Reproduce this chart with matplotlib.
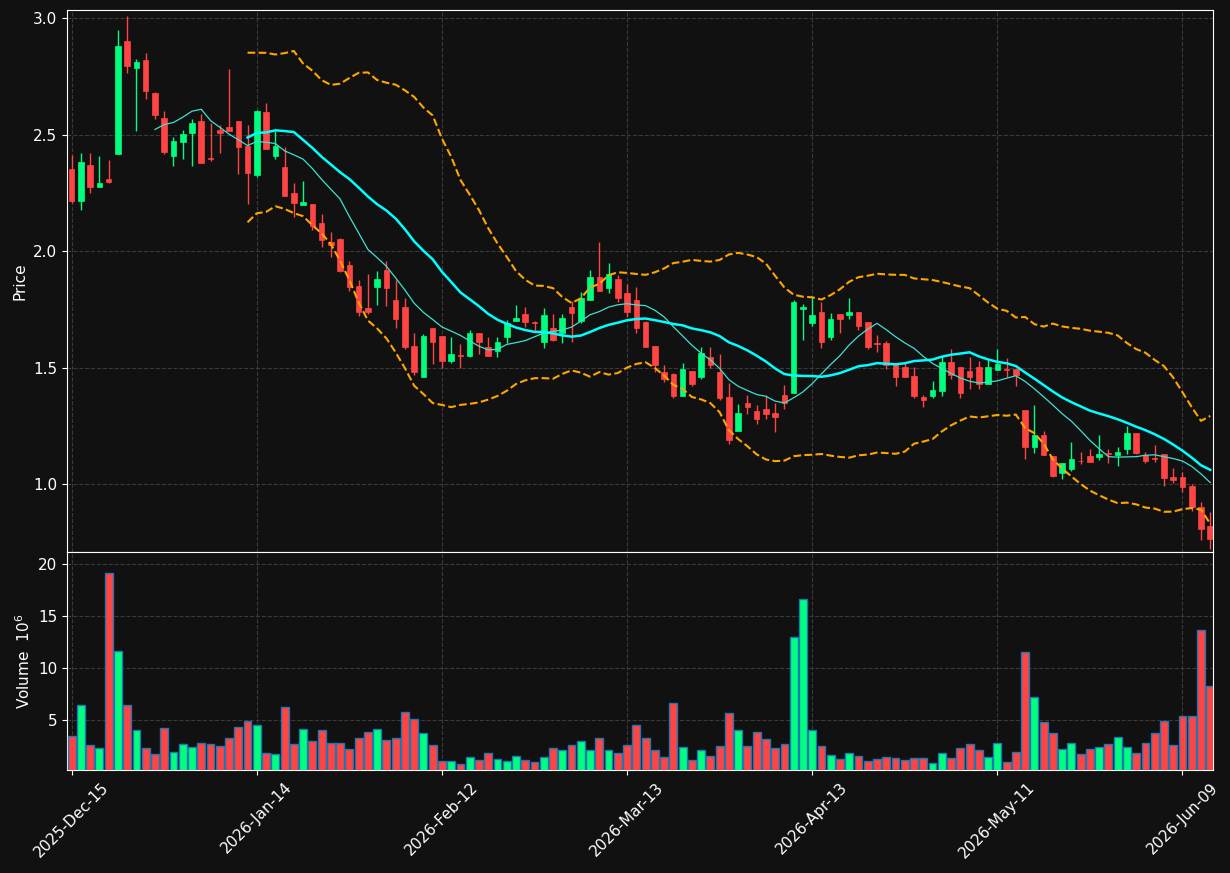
import matplotlib
matplotlib.use("Agg")
import matplotlib.pyplot as plt
import numpy as np
import pandas as pd

# OHLC values, one candle per trading session
opens = [2.352, 2.216, 2.370, 2.277, 2.309, 2.417, 2.903, 2.788, 2.821, 2.679,
         2.572, 2.410, 2.470, 2.509, 2.559, 2.398, 2.520, 2.533, 2.559, 2.453,
         2.328, 2.600, 2.409, 2.360, 2.249, 2.199, 2.202, 2.121, 2.040, 2.053,
         1.942, 1.852, 1.756, 1.845, 1.920, 1.792, 1.762, 1.591, 1.460, 1.672,
         1.634, 1.528, 1.553, 1.550, 1.650, 1.590, 1.571, 1.631, 1.699, 1.732,
         1.693, 1.608, 1.672, 1.647, 1.762, 1.699, 1.789, 1.890, 1.840, 1.882,
         1.822, 1.792, 1.695, 1.591, 1.483, 1.472, 1.379, 1.484, 1.459, 1.544,
         1.480, 1.373, 1.228, 1.350, 1.313, 1.322, 1.305, 1.382, 1.392, 1.751,
         1.691, 1.741, 1.631, 1.732, 1.728, 1.741, 1.694, 1.604, 1.604, 1.514,
         1.501, 1.463, 1.375, 1.377, 1.400, 1.523, 1.501, 1.484, 1.501, 1.430,
         1.490, 1.494, 1.493, 1.320, 1.157, 1.210, 1.120, 1.049, 1.066, 1.099,
         1.121, 1.115, 1.131, 1.125, 1.151, 1.220, 1.125, 1.109, 1.130, 1.032,
         1.030, 0.993, 0.901, 0.820]
highs = [2.413, 2.420, 2.420, 2.411, 2.391, 2.950, 3.010, 2.824, 2.850, 2.685,
         2.602, 2.489, 2.520, 2.570, 2.589, 2.549, 2.544, 2.781, 2.559, 2.544,
         2.606, 2.635, 2.517, 2.449, 2.291, 2.303, 2.202, 2.160, 2.081, 2.057,
         1.959, 1.877, 1.903, 1.915, 1.957, 1.877, 1.798, 1.650, 1.645, 1.672,
         1.634, 1.632, 1.603, 1.662, 1.650, 1.632, 1.632, 1.705, 1.769, 1.761,
         1.702, 1.754, 1.732, 1.732, 1.785, 1.825, 1.920, 2.038, 1.949, 1.899,
         1.860, 1.846, 1.702, 1.591, 1.513, 1.479, 1.521, 1.484, 1.590, 1.590,
         1.557, 1.432, 1.343, 1.382, 1.339, 1.382, 1.350, 1.424, 1.791, 1.772,
         1.806, 1.781, 1.735, 1.732, 1.799, 1.741, 1.694, 1.641, 1.614, 1.514,
         1.520, 1.501, 1.382, 1.442, 1.551, 1.578, 1.501, 1.547, 1.527, 1.531,
         1.578, 1.540, 1.493, 1.320, 1.339, 1.228, 1.120, 1.089, 1.180, 1.137,
         1.150, 1.210, 1.150, 1.160, 1.248, 1.220, 1.138, 1.169, 1.130, 1.068,
         1.050, 1.000, 0.924, 0.878]
lows = [2.208, 2.179, 2.248, 2.277, 2.291, 2.417, 2.766, 2.517, 2.655, 2.569,
        2.418, 2.368, 2.397, 2.367, 2.380, 2.388, 2.420, 2.517, 2.330, 2.201,
        2.320, 2.437, 2.396, 2.236, 2.148, 2.199, 2.091, 2.020, 1.977, 1.910,
        1.828, 1.721, 1.730, 1.769, 1.764, 1.670, 1.581, 1.470, 1.460, 1.517,
        1.500, 1.521, 1.500, 1.546, 1.560, 1.550, 1.547, 1.607, 1.699, 1.675,
        1.657, 1.583, 1.614, 1.607, 1.611, 1.691, 1.789, 1.828, 1.821, 1.782,
        1.718, 1.647, 1.588, 1.483, 1.440, 1.370, 1.379, 1.422, 1.453, 1.499,
        1.362, 1.171, 1.228, 1.302, 1.259, 1.281, 1.222, 1.321, 1.392, 1.620,
        1.678, 1.585, 1.620, 1.650, 1.709, 1.661, 1.578, 1.567, 1.493, 1.422,
        1.460, 1.370, 1.332, 1.368, 1.379, 1.453, 1.370, 1.409, 1.409, 1.430,
        1.490, 1.460, 1.421, 1.107, 1.135, 1.125, 1.029, 1.020, 1.055, 1.088,
        1.095, 1.105, 1.089, 1.079, 1.130, 1.130, 1.091, 1.095, 0.991, 1.006,
        0.967, 0.886, 0.758, 0.722]
closes = [2.216, 2.383, 2.277, 2.292, 2.297, 2.881, 2.797, 2.812, 2.689, 2.586,
          2.427, 2.473, 2.503, 2.550, 2.380, 2.396, 2.509, 2.517, 2.448, 2.337,
          2.602, 2.437, 2.450, 2.236, 2.208, 2.211, 2.108, 2.048, 2.027, 1.916,
          1.848, 1.738, 1.738, 1.882, 1.840, 1.708, 1.588, 1.481, 1.634, 1.610,
          1.528, 1.560, 1.551, 1.650, 1.610, 1.550, 1.611, 1.692, 1.711, 1.698,
          1.691, 1.724, 1.617, 1.711, 1.736, 1.801, 1.890, 1.828, 1.903, 1.798,
          1.738, 1.670, 1.588, 1.511, 1.453, 1.379, 1.493, 1.429, 1.561, 1.510,
          1.369, 1.189, 1.305, 1.330, 1.279, 1.301, 1.289, 1.350, 1.783, 1.762,
          1.724, 1.610, 1.709, 1.707, 1.741, 1.678, 1.587, 1.601, 1.510, 1.460,
          1.460, 1.377, 1.362, 1.403, 1.523, 1.469, 1.392, 1.460, 1.430, 1.501,
          1.514, 1.491, 1.468, 1.157, 1.210, 1.125, 1.036, 1.089, 1.107, 1.097,
          1.095, 1.130, 1.129, 1.138, 1.220, 1.134, 1.097, 1.107, 1.027, 1.017,
          0.988, 0.901, 0.807, 0.764]
# volume in millions
volumes = [3.46, 6.44, 2.60, 2.28, 19.13, 11.63, 6.44, 4.01, 2.28, 1.73,
           4.23, 1.92, 2.69, 2.40, 2.79, 2.69, 2.50, 3.27, 4.33, 4.90,
           4.52, 1.83, 1.73, 6.25, 2.69, 4.13, 2.98, 4.04, 2.79, 2.79,
           2.21, 3.27, 3.85, 4.13, 3.08, 3.27, 5.77, 5.10, 3.75, 2.60,
           1.06, 1.06, 0.77, 1.44, 1.15, 1.83, 1.25, 1.06, 1.54, 1.15,
           0.96, 1.44, 2.31, 2.12, 2.60, 2.98, 2.12, 3.27, 2.12, 1.83,
           2.60, 4.52, 3.27, 2.12, 1.44, 6.63, 2.40, 1.15, 2.12, 1.54,
           2.50, 5.67, 4.04, 2.50, 3.85, 3.17, 2.31, 2.69, 12.98, 16.63,
           4.04, 2.50, 1.63, 1.25, 1.83, 1.54, 1.06, 1.25, 1.44, 1.35,
           1.15, 1.35, 1.35, 0.87, 1.83, 1.35, 2.31, 2.69, 2.12, 1.44,
           2.79, 0.96, 1.92, 11.54, 7.21, 4.81, 3.75, 2.21, 2.79, 1.73,
           2.21, 2.40, 2.69, 3.37, 2.40, 1.83, 2.79, 3.75, 4.90, 2.60,
           5.38, 5.38, 13.65, 8.27]

tick_idx = [0, 20, 40, 60, 80, 100, 120]
tick_labels = ["2025-Dec-15", "2026-Jan-14", "2026-Feb-12", "2026-Mar-13",
               "2026-Apr-13", "2026-May-11", "2026-Jun-09"]

BG = "#111111"
UP = "#00ff7f"
DOWN = "#ff4444"

plt.rcParams["font.size"] = 11

df = pd.DataFrame({"Open": opens, "High": highs, "Low": lows,
                   "Close": closes, "Volume": volumes})
x = np.arange(len(df))
up = df["Close"] >= df["Open"]
colors = np.where(up, UP, DOWN)

mav10 = df["Close"].rolling(10).mean()
mid = df["Close"].rolling(20).mean()
std = df["Close"].rolling(20).std(ddof=0)
bb_up = mid + 2 * std
bb_lo = mid - 2 * std

fig = plt.figure(figsize=(12.3, 8.73), dpi=100, facecolor=BG)
ax = fig.add_axes([0.0545, 0.3677, 0.9317, 0.6208])
axv = fig.add_axes([0.0545, 0.118, 0.9317, 0.2497], sharex=ax)

for a in (ax, axv):
    a.set_facecolor(BG)
    for s in a.spines.values():
        s.set_color("white")
    a.tick_params(colors="white", labelcolor="white")
    a.grid(True, color="#3a3a3a", linestyle="--", linewidth=0.8)
    a.set_axisbelow(True)

# candles
ax.vlines(x, df["Low"], df["High"], colors=colors, linewidth=1.0, zorder=2)
body_lo = np.minimum(df["Open"], df["Close"])
body_h = np.maximum(np.abs(df["Close"] - df["Open"]), 0.003)
ax.bar(x, body_h, bottom=body_lo, width=0.6, color=colors,
       edgecolor=colors, linewidth=0.5, zorder=3)

ax.plot(x, mav10, color="turquoise", linewidth=0.9, zorder=4)
ax.plot(x, mid, color="cyan", linewidth=1.8, zorder=4)
ax.plot(x, bb_up, color="orange", linestyle="--", linewidth=1.5, zorder=4)
ax.plot(x, bb_lo, color="orange", linestyle="--", linewidth=1.5, zorder=4)

ax.set_ylim(0.708, 3.036)
ax.set_yticks([1.0, 1.5, 2.0, 2.5, 3.0])
ax.set_ylabel("Price", color="white")
ax.tick_params(axis="x", labelbottom=False)

# volume
axv.bar(x, df["Volume"], width=0.85, color=colors, edgecolor="#1f77b4",
        linewidth=1.0, zorder=3)
axv.set_ylim(0.19, 21.17)
axv.set_yticks([5, 10, 15, 20])
axv.set_ylabel("Volume  $10^{6}$", color="white")

axv.set_xlim(-0.5, 123.3)
axv.set_xticks(tick_idx)
axv.set_xticklabels(tick_labels)
axv.tick_params(axis="x", labelrotation=45)

fig.savefig("out.png", facecolor=BG)
